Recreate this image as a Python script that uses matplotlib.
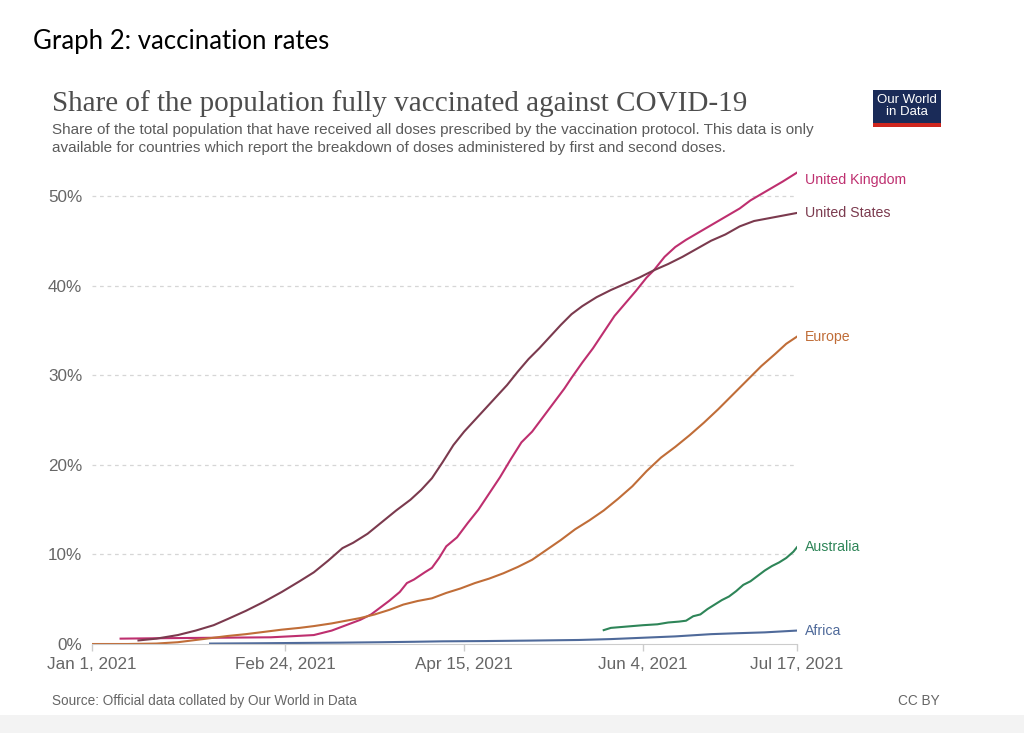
import pandas as pd
import matplotlib
matplotlib.use("Agg")
import matplotlib.pyplot as plt
from matplotlib.patches import Rectangle

# Days since Jan 1, 2021 and share fully vaccinated (%)
uk_days = [8, 20, 35, 50, 55, 62, 67, 71, 75, 78, 81, 83, 86, 88, 90, 93, 95, 97, 99,
           102, 105, 108, 111, 114, 117, 120, 123, 126, 129, 132, 134, 137, 140, 143,
           146, 149, 152, 155, 157, 160, 163, 166, 169, 172, 175, 178, 181, 184, 187,
           190, 193, 197]
uk_vals = [0.6, 0.65, 0.7, 0.75, 0.85, 1.0, 1.5, 2.1, 2.7, 3.3, 4.2, 4.8, 5.8, 6.8, 7.2,
           8.0, 8.5, 9.6, 10.9, 11.9, 13.5, 15.0, 16.8, 18.6, 20.6, 22.5, 23.7, 25.3,
           26.9, 28.5, 29.7, 31.4, 33.0, 34.8, 36.6, 38.0, 39.4, 40.9, 41.7, 43.2, 44.3,
           45.1, 45.8, 46.5, 47.2, 47.9, 48.6, 49.5, 50.2, 50.9, 51.6, 52.6]

us_days = [13, 18, 24, 29, 34, 38, 43, 48, 53, 58, 62, 66, 70, 73, 77, 81, 85, 89, 92,
           95, 98, 101, 104, 107, 110, 113, 116, 119, 122, 125, 128, 131, 134, 137, 141,
           145, 149, 153, 157, 161, 165, 169, 173, 177, 181, 185, 189, 193, 197]
us_vals = [0.4, 0.6, 1.0, 1.5, 2.1, 2.8, 3.7, 4.7, 5.8, 7.0, 8.0, 9.3, 10.7, 11.3, 12.3,
           13.6, 14.9, 16.1, 17.2, 18.5, 20.3, 22.2, 23.7, 25.0, 26.3, 27.6, 28.9, 30.4,
           31.8, 33.0, 34.3, 35.6, 36.8, 37.7, 38.7, 39.5, 40.2, 40.9, 41.7, 42.4, 43.2,
           44.1, 45.0, 45.7, 46.6, 47.2, 47.5, 47.8, 48.1]

eu_days = [0, 10, 18, 24, 29, 34, 38, 43, 48, 53, 58, 62, 67, 71, 75, 79, 83, 87, 91, 95,
           99, 103, 107, 111, 115, 119, 123, 127, 131, 135, 139, 143, 147, 151, 155, 159,
           163, 167, 171, 175, 179, 183, 187, 191, 194, 197]
eu_vals = [0.0, 0.0, 0.05, 0.2, 0.45, 0.7, 0.9, 1.1, 1.35, 1.6, 1.8, 2.0, 2.3, 2.6, 2.9,
           3.3, 3.8, 4.4, 4.8, 5.1, 5.7, 6.2, 6.8, 7.3, 7.9, 8.6, 9.4, 10.5, 11.6, 12.8,
           13.8, 14.9, 16.2, 17.6, 19.3, 20.8, 22.0, 23.3, 24.7, 26.2, 27.8, 29.4, 31.0,
           32.4, 33.5, 34.3]

au_days = [143, 145, 148, 151, 154, 158, 161, 164, 166, 168, 170, 172, 174, 176, 178, 180,
           182, 184, 186, 188, 190, 192, 194, 196, 197]
au_vals = [1.55, 1.8, 1.9, 2.0, 2.1, 2.2, 2.4, 2.5, 2.6, 3.1, 3.3, 3.9, 4.4, 4.9, 5.3, 5.9,
           6.6, 7.0, 7.6, 8.2, 8.7, 9.1, 9.6, 10.3, 10.8]

af_days = [33, 45, 58, 69, 81, 90, 98, 110, 122, 136, 145, 154, 163, 173, 180, 188, 197]
af_vals = [0.05, 0.08, 0.12, 0.15, 0.2, 0.25, 0.3, 0.33, 0.38, 0.45, 0.55, 0.7, 0.85, 1.1,
           1.2, 1.3, 1.5]

tick_days = [0, 54, 104, 154, 197]
y_ticks = [0, 10, 20, 30, 40, 50]

start = pd.Timestamp("2021-01-01")


def to_dates(days):
    return start + pd.to_timedelta(days, unit="D")


# name, days, values, colour, label nudge (points)
series = [
    ("United Kingdom", uk_days, uk_vals, "#be2f6f", -5),
    ("United States", us_days, us_vals, "#7b3a4e", 0),
    ("Europe", eu_days, eu_vals, "#c06d38", 0),
    ("Australia", au_days, au_vals, "#2e8558", 0),
    ("Africa", af_days, af_vals, "#4f6a9a", 0),
]

fig = plt.figure(figsize=(10.24, 7.33), dpi=100)
fig.patch.set_facecolor("white")

# faint grey strip at the bottom of the screenshot
fig.patches.append(Rectangle((0, 0), 1, 0.025, transform=fig.transFigure,
                             facecolor="#f3f3f3", edgecolor="none", zorder=0))

ax = fig.add_axes([0.0898, 0.1214, 0.6885, 0.648])

for name, d, v, color, dy in series:
    x = to_dates(d)
    ax.plot(x, v, color=color, lw=1.5, solid_joinstyle="round")
    ax.annotate(name, xy=(x[-1], v[-1]), xytext=(6, dy), textcoords="offset points",
                va="center", ha="left", color=color, fontsize=10.2,
                family="Liberation Sans")

ax.set_xlim(to_dates([0])[0], to_dates([197])[0])
ax.set_ylim(0, 53)

tick_dates = to_dates(tick_days)
ax.set_xticks(tick_dates)
ax.set_xticklabels([f"{t.strftime('%b')} {t.day}, {t.year}" for t in tick_dates])
ax.set_yticks(y_ticks)
ax.set_yticklabels([f"{t}%" for t in y_ticks])

ax.tick_params(axis="x", colors="#cccccc", length=5, width=1, labelcolor="#666666",
               labelsize=12.3, pad=4)
ax.tick_params(axis="y", length=0, labelcolor="#666666", labelsize=12.3, pad=7)
for lab in ax.get_xticklabels() + ax.get_yticklabels():
    lab.set_family("Liberation Sans")

for s in ["top", "right", "left"]:
    ax.spines[s].set_visible(False)
ax.spines["bottom"].set_color("#cccccc")

ax.grid(axis="y", color="#d6d6d6", linestyle=(0, (3, 3)), lw=0.9)
ax.set_axisbelow(True)
ax.yaxis.get_gridlines()[0].set_visible(False)

# headings
fig.text(33 / 1024, 1 - 41 / 733, "Graph 2: vaccination rates", fontsize=18.5,
         family="Lato", color="black", va="center", ha="left")
fig.text(52 / 1024, 1 - 104 / 733,
         "Share of the population fully vaccinated against COVID-19",
         fontsize=21, family="Liberation Serif", color="#4d4d4d", va="center", ha="left")
fig.text(52 / 1024, 1 - 139 / 733,
         "Share of the total population that have received all doses prescribed by the "
         "vaccination protocol. This data is only\navailable for countries which report "
         "the breakdown of doses administered by first and second doses.",
         fontsize=11, family="Liberation Sans", color="#5b5b5b", va="center", ha="left",
         linespacing=1.3)

# OWID logo
logo = fig.add_axes([873 / 1024, 1 - 127 / 733, 68 / 1024, 37 / 733])
logo.set_xlim(0, 1)
logo.set_ylim(0, 1)
logo.axis("off")
logo.add_patch(Rectangle((0, 0.12), 1, 0.88, facecolor="#1a2b58", edgecolor="none"))
logo.add_patch(Rectangle((0, 0), 1, 0.12, facecolor="#ce261e", edgecolor="none"))
logo.text(0.5, 0.56, "Our World\nin Data", color="white", fontsize=9.5,
          family="Liberation Sans", ha="center", va="center", linespacing=1.0)

# footer
fig.text(52 / 1024, 1 - 701 / 733, "Source: Official data collated by Our World in Data",
         fontsize=9.8, family="Liberation Sans", color="#666666", va="center", ha="left")
fig.text(940 / 1024, 1 - 701 / 733, "CC BY", fontsize=9.8, family="Liberation Sans",
         color="#666666", va="center", ha="right")

fig.savefig("out.png", dpi=100)
